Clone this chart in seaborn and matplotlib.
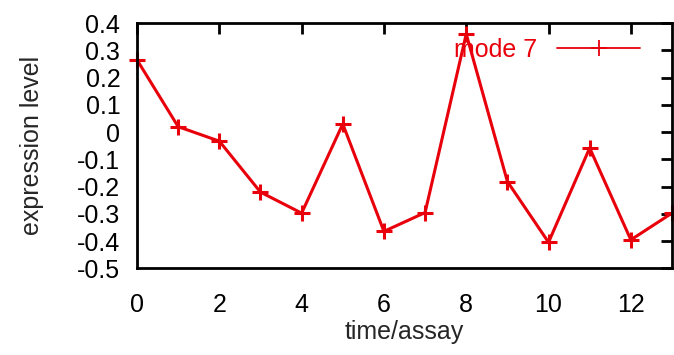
import matplotlib
matplotlib.use("Agg")
import matplotlib.pyplot as plt
import seaborn as sns
import pandas as pd
import numpy as np

time = [0, 1, 2, 3, 4, 5, 6, 7, 8, 9, 10, 11, 12, 13]
expression = [0.265, 0.02, -0.033, -0.22, -0.297, 0.03, -0.364, -0.295, 0.36,
              -0.181, -0.404, -0.058, -0.395, -0.297]
series_name = "mode 7"
x_ticks = [0, 2, 4, 6, 8, 10, 12]
y_ticks = [0.4, 0.3, 0.2, 0.1, 0, -0.1, -0.2, -0.3, -0.4, -0.5]
y_tick_labels = ["0.4", "0.3", "0.2", "0.1", "0", "-0.1", "-0.2", "-0.3", "-0.4", "-0.5"]

RED = "#e8000b"
sns.set_style("white")
plt.rcParams['font.family'] = ['Liberation Sans', 'DejaVu Sans']

df = pd.DataFrame({"time": time, "expr": expression, "series": series_name})

fig = plt.figure(figsize=(6.74, 3.55), dpi=100)
ax = fig.add_axes([0.2033, 0.2437, 0.7937, 0.6913])
sns.lineplot(data=df, x="time", y="expr", hue="series", palette=[RED],
             marker="+", markersize=12, markeredgewidth=2.2, markeredgecolor=RED,
             linewidth=2.2, ax=ax, clip_on=False)

ax.set_xlim(0, 13)
ax.set_ylim(-0.5, 0.4)
ax.set_xticks(x_ticks)
ax.set_yticks(y_ticks)
ax.set_yticklabels(y_tick_labels)
ax.tick_params(direction="in", length=8, width=2, top=True, right=True,
               labelsize=18, colors="black")
ax.tick_params(axis="y", pad=12)
ax.tick_params(axis="x", pad=18)
for s in ax.spines.values():
    s.set_linewidth(2)
    s.set_color("black")
ax.set_xlabel("time/assay", fontsize=18, labelpad=2)
ax.set_ylabel("expression level", fontsize=18, labelpad=24)

leg = ax.legend(loc="upper right", bbox_to_anchor=(0.94, 0.94), frameon=False,
                fontsize=18, markerfirst=False, handlelength=3.3,
                handletextpad=0.8, borderpad=0, borderaxespad=0)
for t in leg.get_texts():
    t.set_color(RED)
for h in leg.legend_handles:
    h.set_linewidth(1.3)
    h.set_markeredgewidth(1.3)
    h.set_markeredgecolor(RED)

fig.savefig("out.png", dpi=100)
